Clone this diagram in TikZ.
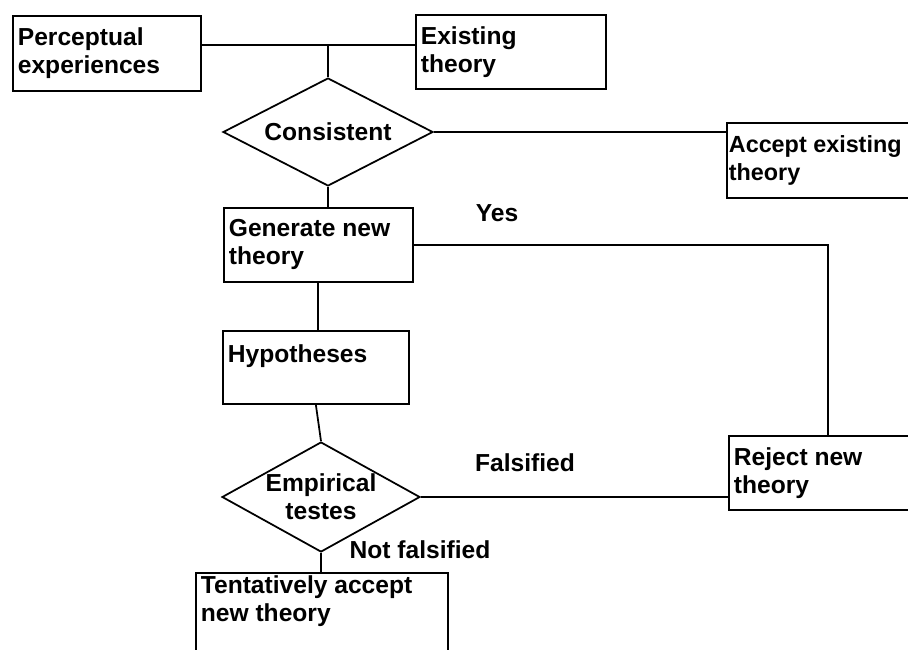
\documentclass[tikz,border=0pt]{standalone}
\usepackage{fontspec}
\setmainfont{Liberation Sans}
\usetikzlibrary{shapes.geometric}
\begin{document}
\begin{tikzpicture}[
  x=0.02cm,y=-0.02cm,
  line width=1pt,
  every node/.style={font=\fontsize{14}{16}\selectfont\bfseries},
  box/.style={draw,anchor=north west,align=flush left,inner xsep=0.1cm,inner ysep=0.05cm},
  decision/.style={draw,diamond,aspect=2,inner sep=0pt,align=center},
  lbl/.style={inner sep=0pt}
]
\useasboundingbox (0,0) rectangle (908,649);
\clip (0,0) rectangle (908,649);
\fill[white] (0,0) rectangle (908,649);
% top row
\node[box,text width=3.56cm,minimum height=1.5cm] (perc) at (12,15) {Perceptual\\experiences};
\node[box,text width=3.6cm,minimum height=1.48cm] (exist) at (415,14) {Existing\\theory};
\coordinate (junc) at (328,45);
\node[decision,minimum width=4.2cm,minimum height=2.16cm] (cons) at (328,132) {Consistent};
\node[box,inner xsep=0.04cm,text width=3.9cm,minimum height=1.5cm,
  font=\fontsize{13.3}{16}\selectfont\bfseries] (accept) at (726,122) {Accept existing\\theory};
% middle column
\node[box,text width=3.58cm,minimum height=1.48cm] (gen) at (223,207) {Generate new\\theory};
\node[box,text width=3.52cm,minimum height=1.46cm] (hyp) at (222,330) {Hypotheses\\~};
\node[decision,aspect=1.8,minimum width=3.96cm,minimum height=2.2cm] (emp) at (321,497) {Empirical\\testes};
\node[box,text width=3.76cm,minimum height=1.48cm] (reject) at (728,435) {Reject new\\theory};
\node[box,text width=4.84cm,minimum height=1.6cm] (tent) at (195,572) {Tentatively accept\\new theory\\~};
% labels
\node[lbl] (yes) at (497,213) {Yes};
\node[lbl] (fals) at (525,463) {Falsified};
\node[lbl] (notfals) at (420,550) {Not falsified};
% connectors
\draw (junc -| perc.east) -- (junc -| exist.west);
\draw (junc) -- (cons.north);
\draw (cons.east) -- (cons.east -| accept.west);
\draw (cons.south) -- (cons.south |- gen.north);
\draw (gen.east) -| (reject.north);
\draw (gen.south) -- (gen.south |- hyp.north);
\draw (hyp.south) -- (emp.north);
\draw (emp.east) -- (emp.east -| reject.west);
\draw (emp.south) -- (emp.south |- tent.north);
\end{tikzpicture}
\end{document}
